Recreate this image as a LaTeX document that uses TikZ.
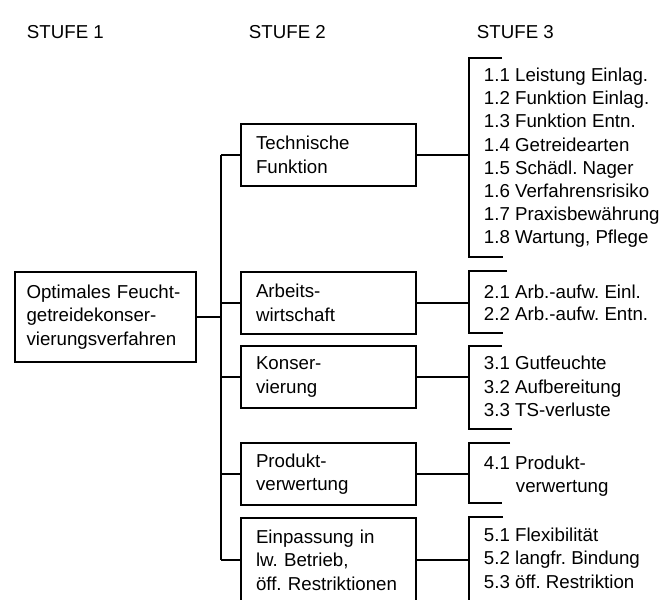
\documentclass[tikz,border=0pt]{standalone}
\usepackage{fontspec}
\setmainfont{Liberation Sans}
\frenchspacing
\begin{document}
\begin{tikzpicture}[x=1pt,y=-1pt, line width=1.9pt,
  every node/.style={font=\fontsize{18.7}{23.5}\selectfont},
  box/.style={draw, rectangle, inner sep=0pt, align=left, minimum height=62, minimum width=175, text width=145},
  item/.style={anchor=base west, inner sep=0pt},
  hdr/.style={anchor=base west, inner sep=0pt}]
\useasboundingbox (0,0) rectangle (668,599);
\clip (0,0) rectangle (668,599);
% headers
\node[hdr] (h1) at (26,38.8) {STUFE 1};
\node[hdr] (h2) at (248,38.8) {STUFE 2};
\node[hdr] (h3) at (476,38.8) {STUFE 3};
% stage 1
\node[box, minimum width=181, minimum height=90, text width=158] (s1) at (105.5,317) {\mbox{Optimales Feucht-}\\\mbox{getreidekonser-}\\\mbox{vierungsverfahren}};
% stage 2
\node[box] (tf) at (328.5,155) {Technische\\Funktion};
\node[box] (aw) at (328.5,303) {Arbeits-\\wirtschaft};
\node[box] (ko) at (328.5,377) {Konser-\\vierung};
\node[box] (pv) at (328.5,474) {Produkt-\\verwertung};
\node[box, minimum height=84] (ep) at (328.5,560) {\mbox{Einpassung in}\\\mbox{lw. Betrieb,}\\\mbox{öff. Restriktionen}};
% trunk
\coordinate (tr) at (221,0);
\draw (tf.west -| tr) -- (ep.west -| tr);
\draw (s1.east) -- (s1.east -| tr);
\foreach \n in {tf,aw,ko,pv,ep} \draw (\n.west -| tr) -- (\n.west);
% brackets
\coordinate (bx) at (469,0);
\draw (502,58) -- (469,58) -- (469,257) -- (503,257);
\draw (507,271) -- (469,271) -- (469,333) -- (503,333);
\draw (502,346) -- (469,346) -- (469,429) -- (512,429);
\draw (510,443) -- (469,443) -- (469,503) -- (502,503);
\draw (503,517) -- (469,517) -- (469,610);
\foreach \n in {tf,aw,ko,pv,ep} \draw (\n.east) -- (\n.east -| bx);
% lists
\foreach \t [count=\i from 0] in {1.1 Leistung Einlag.,1.2 Funktion Einlag.,1.3 Funktion Entn.,1.4 Getreidearten,1.5 Schädl. Nager,1.6 Verfahrensrisiko,1.7 Praxisbewährung,{1.8 Wartung, Pflege}}
  \node[item] (a\i) at (483,{81.5+23.2*\i}) {\t};
\node[item] (b1) at (483,298) {2.1 Arb.-aufw. Einl.};
\node[item] (b2) at (483,320) {2.2 Arb.-aufw. Entn.};
\node[item] (c1) at (483,369) {3.1 Gutfeuchte};
\node[item] (c2) at (483,393) {3.2 Aufbereitung};
\node[item] (c3) at (483,416) {3.3 TS-verluste};
\node[item] (d1) at (483,469) {4.1 Produkt-};
\node[item] (d2) at (515,492) {verwertung};
\node[item] (e1) at (483,541) {5.1 Flexibilität};
\node[item] (e2) at (483,564) {5.2 langfr. Bindung};
\node[item] (e3) at (483,588) {5.3 öff. Restriktion};
\end{tikzpicture}
\end{document}
